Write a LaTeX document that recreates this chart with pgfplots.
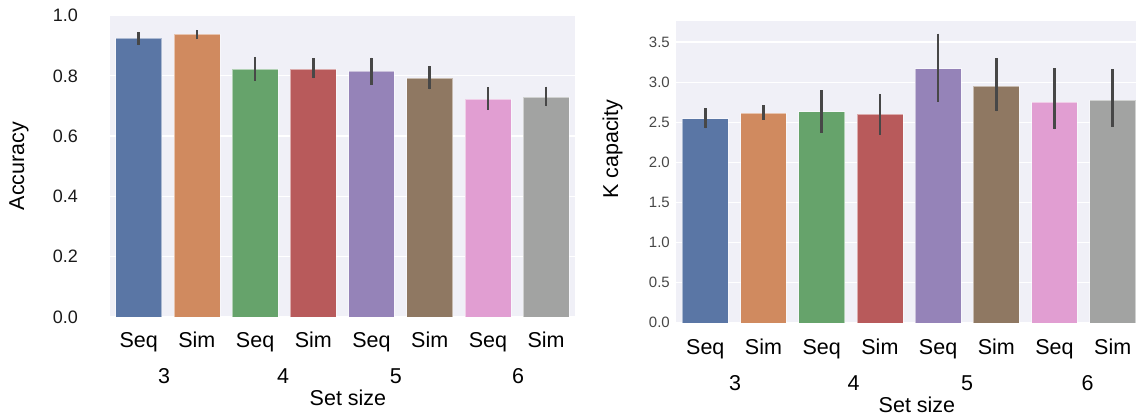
\documentclass[border=0pt]{standalone}
\usepackage{pgfplots}
\pgfplotsset{compat=1.18}
\usepackage{fontspec}
\setmainfont{Liberation Sans}
\definecolor{bg}{HTML}{F0F0F7}
\definecolor{c0}{HTML}{5A76A5}
\definecolor{c1}{HTML}{D08A5F}
\definecolor{c2}{HTML}{66A36B}
\definecolor{c3}{HTML}{B85A5B}
\definecolor{c4}{HTML}{9583B8}
\definecolor{c5}{HTML}{8F7862}
\definecolor{c6}{HTML}{E19ED2}
\definecolor{c7}{HTML}{A2A3A2}
\definecolor{errc}{HTML}{474747}
\newcommand\xfont{\fontsize{21.5}{24}\selectfont}
\newcommand\lytick{\fontsize{18}{20}\selectfont}
\newcommand\rytick{\fontsize{15}{17}\selectfont}
\newcommand\onebar[5]{\addplot[ybar, bar shift=0pt, bar width=0.79, fill=#1, draw=white, draw opacity=0.5, line width=0.6pt,
  error bars/.cd, y dir=both, y explicit, error mark=none,
  error bar style={line width=2.6pt, color=errc, draw opacity=1}]
  coordinates {(#2,#3) += (0,#4) -= (0,#5)};}
\pgfplotsset{mybase/.style={
  anchor=south west, scale only axis, width=465.6pt,
  xmin=-0.5, xmax=7.5, ymin=0,
  axis background/.style={fill=bg},
  axis line style={draw=none},
  major tick length=0pt,
  ymajorgrids, grid style={white, line width=1.3pt},
  xtick={0,1,2,3,4,5,6,7},
  xticklabels={Seq,Sim,Seq,Sim,Seq,Sim,Seq,Sim},
  clip=false,
}}
\begin{document}
\begin{tikzpicture}
\path[use as bounding box] (0pt,0pt) rectangle (1136pt,416pt);
% left
\begin{axis}[mybase,
  at={(109.6pt,99pt)}, height=302.1pt, ymax=1.002,
  ytick={0,0.2,0.4,0.6,0.8,1.0},
  yticklabels={0.0,0.2,0.4,0.6,0.8,1.0},
  yticklabel style={font=\lytick, color=black!90, anchor=east, inner sep=0pt, xshift=-31.6pt},
  xticklabel style={font=\xfont, anchor=base, yshift=-30.7pt},
]
\onebar{c0}{0}{0.926}{0.020}{0.024}
\onebar{c1}{1}{0.938}{0.014}{0.017}
\onebar{c2}{2}{0.823}{0.040}{0.039}
\onebar{c3}{3}{0.823}{0.035}{0.031}
\onebar{c4}{4}{0.815}{0.045}{0.044}
\onebar{c5}{5}{0.793}{0.040}{0.038}
\onebar{c6}{6}{0.723}{0.039}{0.036}
\onebar{c7}{7}{0.729}{0.035}{0.030}
\node[font=\xfont, anchor=base] at ([yshift=-66.7pt]axis cs:0.435,0) {3};
\node[font=\xfont, anchor=base] at ([yshift=-66.7pt]axis cs:2.48,0) {4};
\node[font=\xfont, anchor=base] at ([yshift=-66.7pt]axis cs:4.42,0) {5};
\node[font=\xfont, anchor=base] at ([yshift=-66.7pt]axis cs:6.52,0) {6};
\node[font=\xfont, anchor=base] at ([yshift=-88.7pt]axis cs:3.596,0) {Set size};
\node[font=\xfont, rotate=90] at ([xshift=-90.6pt]rel axis cs:0,0.5) {Accuracy};
\end{axis}
% right
\begin{axis}[mybase,
  at={(676.2pt,93.2pt)}, height=302.1pt, ymax=3.767,
  ytick={0,0.5,1,1.5,2,2.5,3,3.5},
  yticklabels={0.0,0.5,1.0,1.5,2.0,2.5,3.0,3.5},
  yticklabel style={font=\rytick, color=black!72, anchor=east, inner sep=0pt, xshift=-6.2pt},
  xticklabel style={font=\xfont, anchor=base, yshift=-31.9pt},
]
\onebar{c0}{0}{2.545}{0.133}{0.120}
\onebar{c1}{1}{2.612}{0.100}{0.083}
\onebar{c2}{2}{2.632}{0.267}{0.262}
\onebar{c3}{3}{2.600}{0.253}{0.258}
\onebar{c4}{4}{3.168}{0.437}{0.411}
\onebar{c5}{5}{2.953}{0.345}{0.316}
\onebar{c6}{6}{2.753}{0.420}{0.340}
\onebar{c7}{7}{2.774}{0.387}{0.329}
\node[font=\xfont, anchor=base] at ([yshift=-67.9pt]axis cs:0.51,0) {3};
\node[font=\xfont, anchor=base] at ([yshift=-67.9pt]axis cs:2.55,0) {4};
\node[font=\xfont, anchor=base] at ([yshift=-67.9pt]axis cs:4.50,0) {5};
\node[font=\xfont, anchor=base] at ([yshift=-67.9pt]axis cs:6.57,0) {6};
\node[font=\xfont, anchor=base] at ([yshift=-89.3pt]axis cs:3.637,0) {Set size};
\node[font=\xfont, rotate=90] at ([xshift=-63.7pt]rel axis cs:0,0.575) {K capacity};
\end{axis}
\end{tikzpicture}
\end{document}
